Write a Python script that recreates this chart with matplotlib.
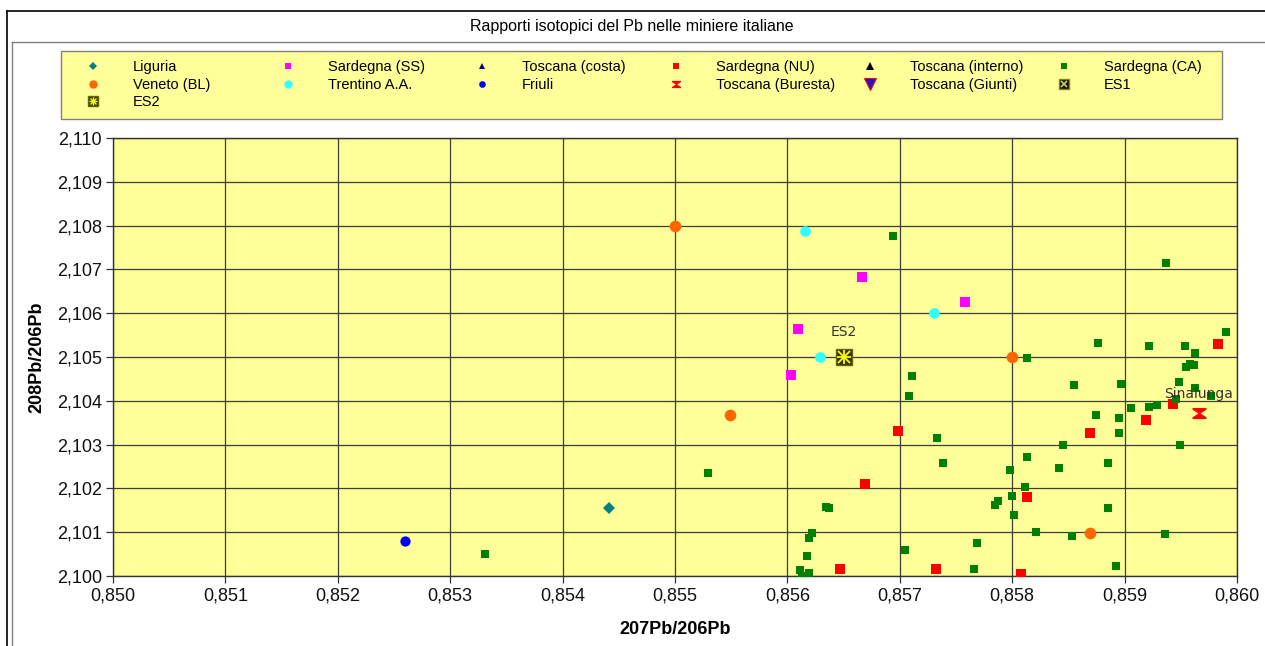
import matplotlib
matplotlib.use("Agg")
import matplotlib.pyplot as plt
from matplotlib.lines import Line2D
from matplotlib.patches import Rectangle
from matplotlib.ticker import FuncFormatter, MultipleLocator

# ---- data (207Pb/206Pb, 208Pb/206Pb) ----
liguria_x = [0.85441]
liguria_y = [2.10155]

sard_ss_x = [0.85666, 0.85758, 0.85609, 0.85603]
sard_ss_y = [2.10683, 2.10626, 2.10565, 2.10460]

tosc_costa_x = []
tosc_costa_y = []

sard_nu_x = [0.85698, 0.85669, 0.85647, 0.85732, 0.85808, 0.85813,
             0.85869, 0.85919, 0.85943, 0.85983]
sard_nu_y = [2.10330, 2.10209, 2.10017, 2.10017, 2.10005, 2.10180,
             2.10326, 2.10357, 2.10392, 2.10530]

tosc_interno_x = []
tosc_interno_y = []

sard_ca_x = [0.85694, 0.85711, 0.85708, 0.85733, 0.85738, 0.85634, 0.85637,
             0.85622, 0.85619, 0.85617, 0.85611, 0.85613, 0.85619, 0.85705,
             0.85769, 0.85766, 0.85798, 0.85813, 0.85811, 0.85800, 0.85787,
             0.85785, 0.85802, 0.85821, 0.85853, 0.85885, 0.85892, 0.85936,
             0.85842, 0.85845, 0.85885, 0.85875, 0.85895, 0.85895, 0.85949,
             0.85906, 0.85922, 0.85929, 0.85946, 0.85937, 0.85954, 0.85990,
             0.85876, 0.85922, 0.85813, 0.85963, 0.85958, 0.85955, 0.85962,
             0.85948, 0.85963, 0.85977, 0.85855, 0.85897, 0.85529, 0.85331]
sard_ca_y = [2.10777, 2.10457, 2.10411, 2.10314, 2.10257, 2.10158, 2.10156,
             2.10099, 2.10086, 2.10046, 2.10013, 2.09999, 2.10007, 2.10060,
             2.10076, 2.10015, 2.10241, 2.10272, 2.10203, 2.10183, 2.10171,
             2.10163, 2.10139, 2.10101, 2.10092, 2.10155, 2.10022, 2.10096,
             2.10247, 2.10298, 2.10257, 2.10367, 2.10361, 2.10327, 2.10298,
             2.10383, 2.10386, 2.10390, 2.10403, 2.10715, 2.10525, 2.10557,
             2.10533, 2.10526, 2.10498, 2.10510, 2.10484, 2.10477, 2.10482,
             2.10444, 2.10429, 2.10411, 2.10435, 2.10439, 2.10236, 2.10051]

veneto_x = [0.85500, 0.85549, 0.85800, 0.85869]
veneto_y = [2.10800, 2.10368, 2.10500, 2.10099]

trentino_x = [0.85616, 0.85629, 0.85730]
trentino_y = [2.10787, 2.10500, 2.10601]

friuli_x = [0.85260]
friuli_y = [2.10080]

buresta_x = [0.85966]
buresta_y = [2.10373]

giunti_x = []
giunti_y = []

es1_x = []
es1_y = []

es2_x = [0.85650]
es2_y = [2.10500]

title = "Rapporti isotopici del Pb nelle miniere italiane"

W, H = 1265, 646
FONT = "Liberation Sans"

hourglass = [(-1, 0.8), (1, 0.8), (1, 0.55), (0.15, 0), (1, -0.55), (1, -0.8),
             (-1, -0.8), (-1, -0.55), (-0.15, 0), (-1, 0.55)]

# style per series: (marker, face, edge, plot size, legend size)
styles = {
    "Liguria": ("D", "#008080", "#008080", 6.0, 4.0),
    "Sardegna (SS)": ("s", "#ff00ff", "#ff00ff", 7.3, 4.8),
    "Toscana (costa)": ("^", "#000080", "#000080", 6.0, 4.8),
    "Sardegna (NU)": ("s", "#ff0000", "#ff0000", 7.3, 4.8),
    "Toscana (interno)": ("^", "#000000", "#000000", 6.0, 5.5),
    "Sardegna (CA)": ("s", "#008000", "#008000", 5.2, 4.6),
    "Veneto (BL)": ("o", "#ff6600", "#ff6600", 8.4, 6.0),
    "Trentino A.A.": ("o", "#33ffff", "#33ffff", 7.7, 6.0),
    "Friuli": ("o", "#0000ff", "#0000ff", 7.4, 4.8),
    "Toscana (Buresta)": (hourglass, "#ff0000", "#ff0000", 10.0, 6.5),
    "Toscana (Giunti)": ("v", "#1a1acc", "#ff0000", 9.0, 9.0),
}

series = [
    ("Liguria", liguria_x, liguria_y),
    ("Sardegna (SS)", sard_ss_x, sard_ss_y),
    ("Toscana (costa)", tosc_costa_x, tosc_costa_y),
    ("Sardegna (NU)", sard_nu_x, sard_nu_y),
    ("Toscana (interno)", tosc_interno_x, tosc_interno_y),
    ("Sardegna (CA)", sard_ca_x, sard_ca_y),
    ("Veneto (BL)", veneto_x, veneto_y),
    ("Trentino A.A.", trentino_x, trentino_y),
    ("Friuli", friuli_x, friuli_y),
    ("Toscana (Buresta)", buresta_x, buresta_y),
    ("Toscana (Giunti)", giunti_x, giunti_y),
]

fig = plt.figure(figsize=(W / 100, H / 100), dpi=100)
fig.patch.set_facecolor("white")

# frames around the chart object
def fline(x0, y0, x1, y1, color, lw=1.0):
    fig.add_artist(Line2D([x0 / W, x1 / W], [1 - y0 / H, 1 - y1 / H],
                          transform=fig.transFigure, color=color, lw=lw))

fline(7, 11, W + 5, 11, "black", 1.2)
fline(7, 11, 7, H + 5, "black", 1.2)
fline(12, 42, W + 5, 42, "#808080", 1.0)
fline(12, 42, 12, H + 5, "#808080", 1.0)

fig.text(632 / W, 1 - 26 / H, title, ha="center", va="center",
         fontsize=11.5, family=FONT, color="black")

# legend box
fig.add_artist(Rectangle((61 / W, 1 - 119 / H), 1161 / W, 68 / H,
                         transform=fig.transFigure, facecolor="#ffff99",
                         edgecolor="#808080", lw=1.0, zorder=0))

ax = fig.add_axes([113 / W, 1 - 576 / H, 1124 / W, 438 / H])
ax.set_facecolor("#ffff99")

for name, xs, ys in series:
    m, fc, ec, ms, _ = styles[name]
    ax.plot(xs, ys, ls="none", marker=m, markersize=ms, markerfacecolor=fc,
            markeredgecolor=ec, markeredgewidth=0.6 if name == "Toscana (Giunti)" else 0,
            zorder=3, label=name)

# ES1 / ES2: dark square with yellow star
ax.plot(es1_x, es1_y, ls="none", marker="s", ms=11, mfc="#111111", mec="#888800", zorder=3)
ax.plot(es1_x, es1_y, ls="none", marker="x", ms=8, mec="#cccc66", mew=1.5, zorder=4)
ax.plot(es2_x, es2_y, ls="none", marker="s", ms=12, mfc="#333300", mec="#666600",
        mew=1.0, zorder=3)
ax.plot(es2_x, es2_y, ls="none", marker="+", ms=10.5, mec="#ffff00", mew=1.3, zorder=4)
ax.plot(es2_x, es2_y, ls="none", marker="x", ms=8, mec="#ffff00", mew=1.3, zorder=4)

ann_font = dict(family="DejaVu Sans", fontsize=10, color="#333333")
ax.annotate("ES2", (es2_x[0], es2_y[0]), xytext=(0, 18), textcoords="offset points",
            ha="center", va="center", **ann_font)
ax.annotate("Sinalunga", (buresta_x[0], buresta_y[0]), xytext=(-25, 13.5),
            textcoords="offset points", ha="left", va="center", **ann_font)

ax.set_xlim(0.850, 0.860)
ax.set_ylim(2.100, 2.110)
ax.xaxis.set_major_locator(MultipleLocator(0.001))
ax.yaxis.set_major_locator(MultipleLocator(0.001))
comma = FuncFormatter(lambda v, p: f"{v:.3f}".replace(".", ","))
ax.xaxis.set_major_formatter(comma)
ax.yaxis.set_major_formatter(comma)
ax.grid(True, color="#3c3c3c", lw=0.9, zorder=1)
ax.set_axisbelow(True)
ax.tick_params(length=5, width=0.9, color="#333333", pad=3, labelsize=13,
               labelcolor="#111111")
for lab in ax.get_xticklabels() + ax.get_yticklabels():
    lab.set_family(FONT)
for sp in ax.spines.values():
    sp.set_color("#333333")
    sp.set_linewidth(1.0)

ax.set_xlabel("207Pb/206Pb", fontsize=13, fontweight="bold", family=FONT)
ax.set_ylabel("208Pb/206Pb", fontsize=13, fontweight="bold", family=FONT)
ax.xaxis.set_label_coords(0.5, -0.102)
ax.yaxis.set_label_coords(-0.060, 0.5)

# legend: six columns, as in the original
def handle(name):
    m, fc, ec, _, lms = styles[name]
    return Line2D([], [], ls="none", marker=m, markersize=lms, markerfacecolor=fc,
                  markeredgecolor=ec, markeredgewidth=0.8 if name == "Toscana (Giunti)" else 0)

es1_h = (Line2D([], [], ls="none", marker="s", ms=6.5, mfc="#111111", mec="#888800"),
         Line2D([], [], ls="none", marker="x", ms=5, mec="#cccc66", mew=1.2))
es2_h = (Line2D([], [], ls="none", marker="s", ms=6.5, mfc="#333300", mec="#666600"),
         Line2D([], [], ls="none", marker="+", ms=6, mec="#ffff00", mew=1.0),
         Line2D([], [], ls="none", marker="x", ms=4.5, mec="#ffff00", mew=1.0))

columns = [
    ["Liguria", "Veneto (BL)", "ES2"],
    ["Sardegna (SS)", "Trentino A.A."],
    ["Toscana (costa)", "Friuli"],
    ["Sardegna (NU)", "Toscana (Buresta)"],
    ["Toscana (interno)", "Toscana (Giunti)"],
    ["Sardegna (CA)", "ES1"],
]
col_marker_x = [93, 288, 482, 676, 870, 1064]
fs = 10.5
fs_px = fs * 100 / 72
for names, mx in zip(columns, col_marker_x):
    hs = []
    for n in names:
        if n == "ES1":
            hs.append(es1_h)
        elif n == "ES2":
            hs.append(es2_h)
        else:
            hs.append(handle(n))
    x0 = mx - fs_px
    fig.legend(hs, names, loc="upper left", bbox_to_anchor=(x0 / W, 1 - 60 / H),
               bbox_transform=fig.transFigure, frameon=False, borderpad=0,
               borderaxespad=0, handlelength=2.0, handletextpad=1.75,
               labelspacing=0.25, prop=dict(family=FONT, size=fs))

fig.savefig("out.png", dpi=100)
